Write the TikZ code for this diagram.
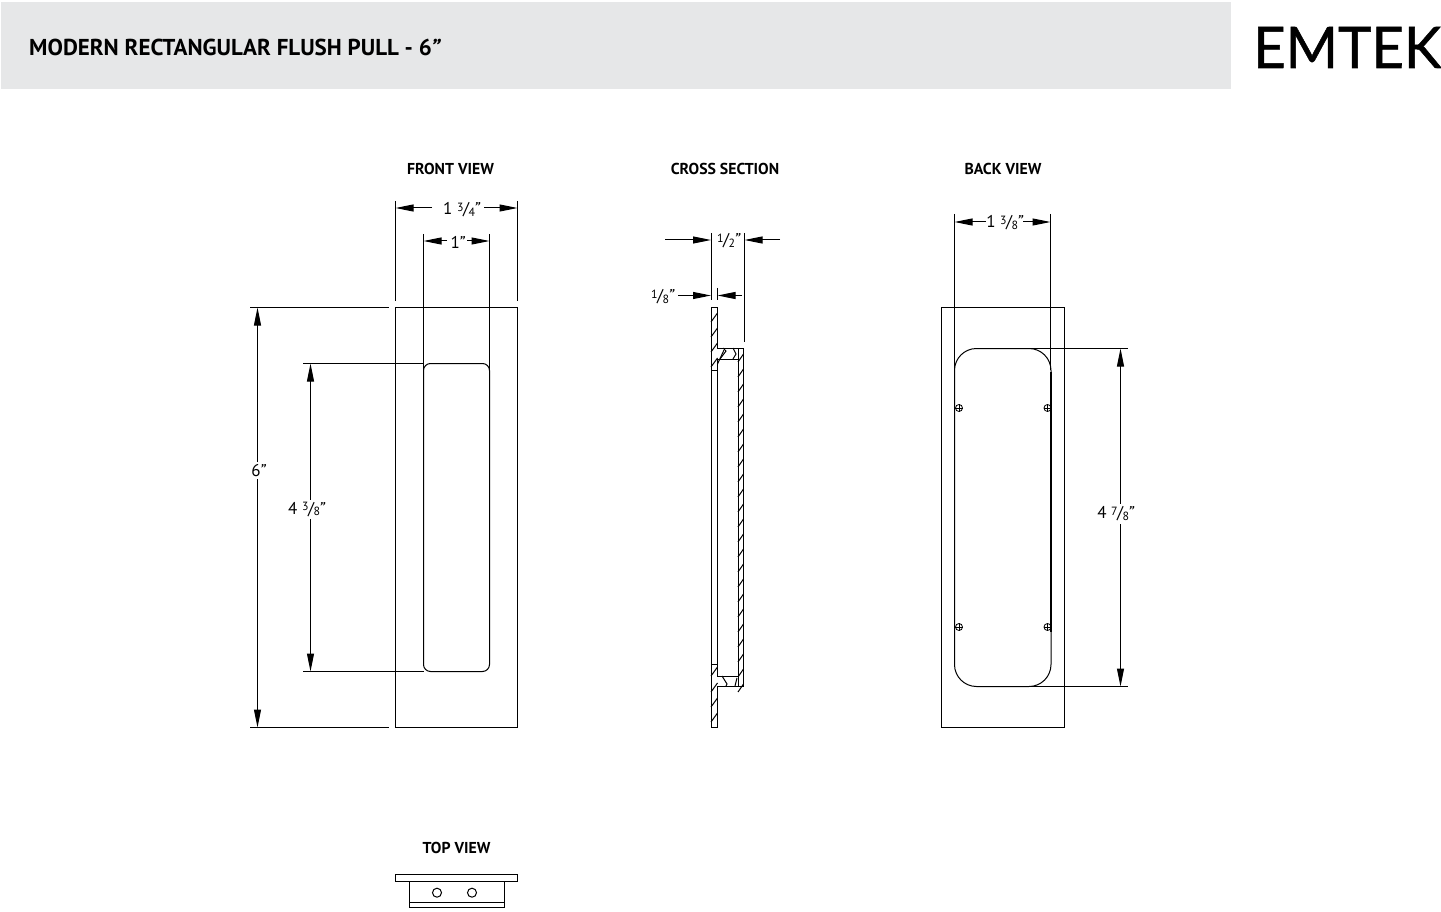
\documentclass[tikz,border=0pt]{standalone}
\usepackage{fontspec}
\usepackage{graphicx}
\usetikzlibrary{arrows.meta}
\setmainfont{PT Sans}
\newfontfamily\logofont[FakeBold=0.9]{Lato}
\newfontfamily\primefont[FakeSlant=0.22]{PT Sans}
\definecolor{band}{HTML}{E6E7E8}
\newcommand{\pr}{\kern-0.12em{\primefont ”}}
\newcommand{\fr}[2]{\raisebox{0.42ex}{\scalebox{0.7}{#1}}\kern-0.03em/\kern-0.03em\raisebox{-0.14ex}{\scalebox{0.7}{#2}}\pr}
\tikzset{
  x=1pt,y=-1pt,
  part/.style={draw=black,line width=1pt},
  dim/.style={draw=black,line width=1pt},
  tip/.style={-{Triangle[length=18pt,width=7pt]}},
  both/.style={{Triangle[length=18pt,width=7pt]}-{Triangle[length=18pt,width=7pt]}},
  dimtext/.style={font=\fontsize{17}{17}\selectfont,inner xsep=0pt,inner ysep=2.5pt,fill=white,text=black},
  viewtitle/.style={font=\fontsize{15.8}{16}\selectfont\bfseries,inner sep=0pt,text=black},
  hatch/.style={draw=black,line width=1pt},
  screw/.style={draw=black,line width=0.8pt,circle,minimum size=7pt,inner sep=0pt}
}
\begin{document}
\begin{tikzpicture}
\useasboundingbox (0,0) rectangle (1441,912);
% header
\fill[band] (1,2) rectangle (1231,89);
\node[anchor=west,inner sep=0pt,font=\fontsize{23}{24}\selectfont\bfseries] (title) at (29,47.5) {MODERN RECTANGULAR FLUSH PULL - 6\kern-0.1em{\primefont ”}};
\node[anchor=west,inner sep=0pt] (logo) at (1253,47.5) {\resizebox{188pt}{41pt}{\logofont EMTEK}};
% view titles
\node[viewtitle] (tfront) at (450.5,169) {FRONT VIEW};
\node[viewtitle] (tcross) at (725,169) {CROSS SECTION};
\node[viewtitle] (tback) at (1003,169) {BACK VIEW};
\node[viewtitle] (ttop) at (456.5,847.5) {TOP VIEW};
% FRONT VIEW
\draw[part] (395.5,307.5) rectangle (517.5,727.5);
\draw[part,rounded corners=7pt] (423.5,363.5) rectangle (489.5,671.5);
\draw[dim] (395.5,201) -- (395.5,301);
\draw[dim] (517.5,201) -- (517.5,301);
\draw[dim] (423.5,234) -- (423.5,369);
\draw[dim] (489.5,234) -- (489.5,369);
\draw[dim] (250,307.5) -- (389,307.5);
\draw[dim] (250,727.5) -- (389,727.5);
\draw[dim] (303,363.5) -- (423.5,363.5);
\draw[dim] (303,671.5) -- (423.5,671.5);
\draw[dim,tip] (432,208) -- (395.5,208);
\draw[dim,tip] (484,208) -- (517.5,208);
\node[dimtext] (d134) at (461,210) {1 \fr{3}{4}};
\draw[dim,tip] (447,241) -- (423.5,241);
\draw[dim,tip] (467,241) -- (489.5,241);
\node[dimtext,fill=none] (d1) at (457,242) {1\pr};
\draw[dim,both] (257.5,307.5) -- (257.5,727.5);
\node[dimtext] (d6) at (258,470.5) {6\pr};
\draw[dim,both] (310.5,363.5) -- (310.5,671.5);
\node[dimtext] (d438) at (306,509.5) {4 \fr{3}{8}};
% CROSS SECTION
\draw[part] (711,307.5) -- (717.5,307.5) -- (717.5,348) -- (743.5,348) -- (743.5,686) -- (717.5,686) -- (717.5,727.5) -- (711,727.5) -- cycle;
\draw[part] (717.5,359) -- (738,359) -- (738,348);
\draw[part] (738,359) -- (738,686);
\draw[part] (717.5,359) -- (717.5,676) -- (738,676);
\draw[part] (711,370) -- (717.5,370);
\draw[part] (711,664) -- (717.5,664);
% plate hatching
\foreach \y in {322,337,352,367} \draw[hatch] (711,\y) -- (717.5,\y-9);
\foreach \y in {676,692,707,722} \draw[hatch] (711,\y) -- (717.5,\y-9);
% wall hatching
\foreach \y in {362,377,...,692} \draw[hatch] (738,\y) -- (743.5,\y-8);
% neck detail
\draw[hatch] (717.5,364) -- (724,350);
\draw[hatch] (720,359) -- (726,351) -- (723,348);
\draw[hatch] (733,348) -- (736,354) -- (733,359);
\draw[hatch] (722,676) -- (727,684) -- (726,686);
\draw[hatch] (735,686) -- (737,678);
% dims
\draw[dim] (711,233) -- (711,300);
\draw[dim] (744.5,233) -- (744.5,342);
\draw[dim] (717.5,288) -- (717.5,300);
\draw[dim,tip] (665,240) -- (711,240);
\draw[dim,tip] (780,240) -- (744.5,240);
\node[dimtext,fill=none] (d12) at (728,241) {\fr{1}{2}};
\draw[dim,tip] (678,295.5) -- (711,295.5);
\draw[dim,tip] (742,295.5) -- (717.5,295.5);
\node[dimtext] (d18) at (662,297) {\fr{1}{8}};
% BACK VIEW
\draw[part] (941.5,307.5) rectangle (1064.5,727.5);
\draw[part,rounded corners=22pt] (954.5,348.5) rectangle (1051,686.5);
\draw[draw=black,line width=2pt] (1051,372) -- (1051,632);
\draw[dim] (954.5,214) -- (954.5,370);
\draw[dim] (1050.5,214) -- (1050.5,370);
\draw[dim] (1030,348.5) -- (1128,348.5);
\draw[dim] (1030,686.5) -- (1128,686.5);
\draw[dim,both] (1120.5,348.5) -- (1120.5,686.5);
\node[dimtext] (d478) at (1115,514) {4 \fr{7}{8}};
\draw[dim,tip] (986,222) -- (954.5,222);
\draw[dim,tip] (1023,222) -- (1050.5,222);
\node[dimtext,fill=none] (d138) at (1004,223) {1 \fr{3}{8}};
\foreach \n/\px/\py in {a/959/408,b/1047.5/408,c/959/627,d/1047.5/627}{
  \node[screw] (s\n) at (\px,\py) {};
  \draw[line width=0.7pt] (s\n.west) -- (s\n.east) (s\n.north) -- (s\n.south);
}
% TOP VIEW
\draw[part] (395.5,874.5) rectangle (517.5,881.5);
\draw[part] (409,881.5) rectangle (504.5,907.5);
\draw[part] (409,902) -- (504.5,902);
\node[draw=black,line width=1pt,circle,minimum size=9pt,inner sep=0pt] (h1) at (437,892.7) {};
\node[draw=black,line width=1pt,circle,minimum size=9pt,inner sep=0pt] (h2) at (472,892.7) {};
\end{tikzpicture}
\end{document}
